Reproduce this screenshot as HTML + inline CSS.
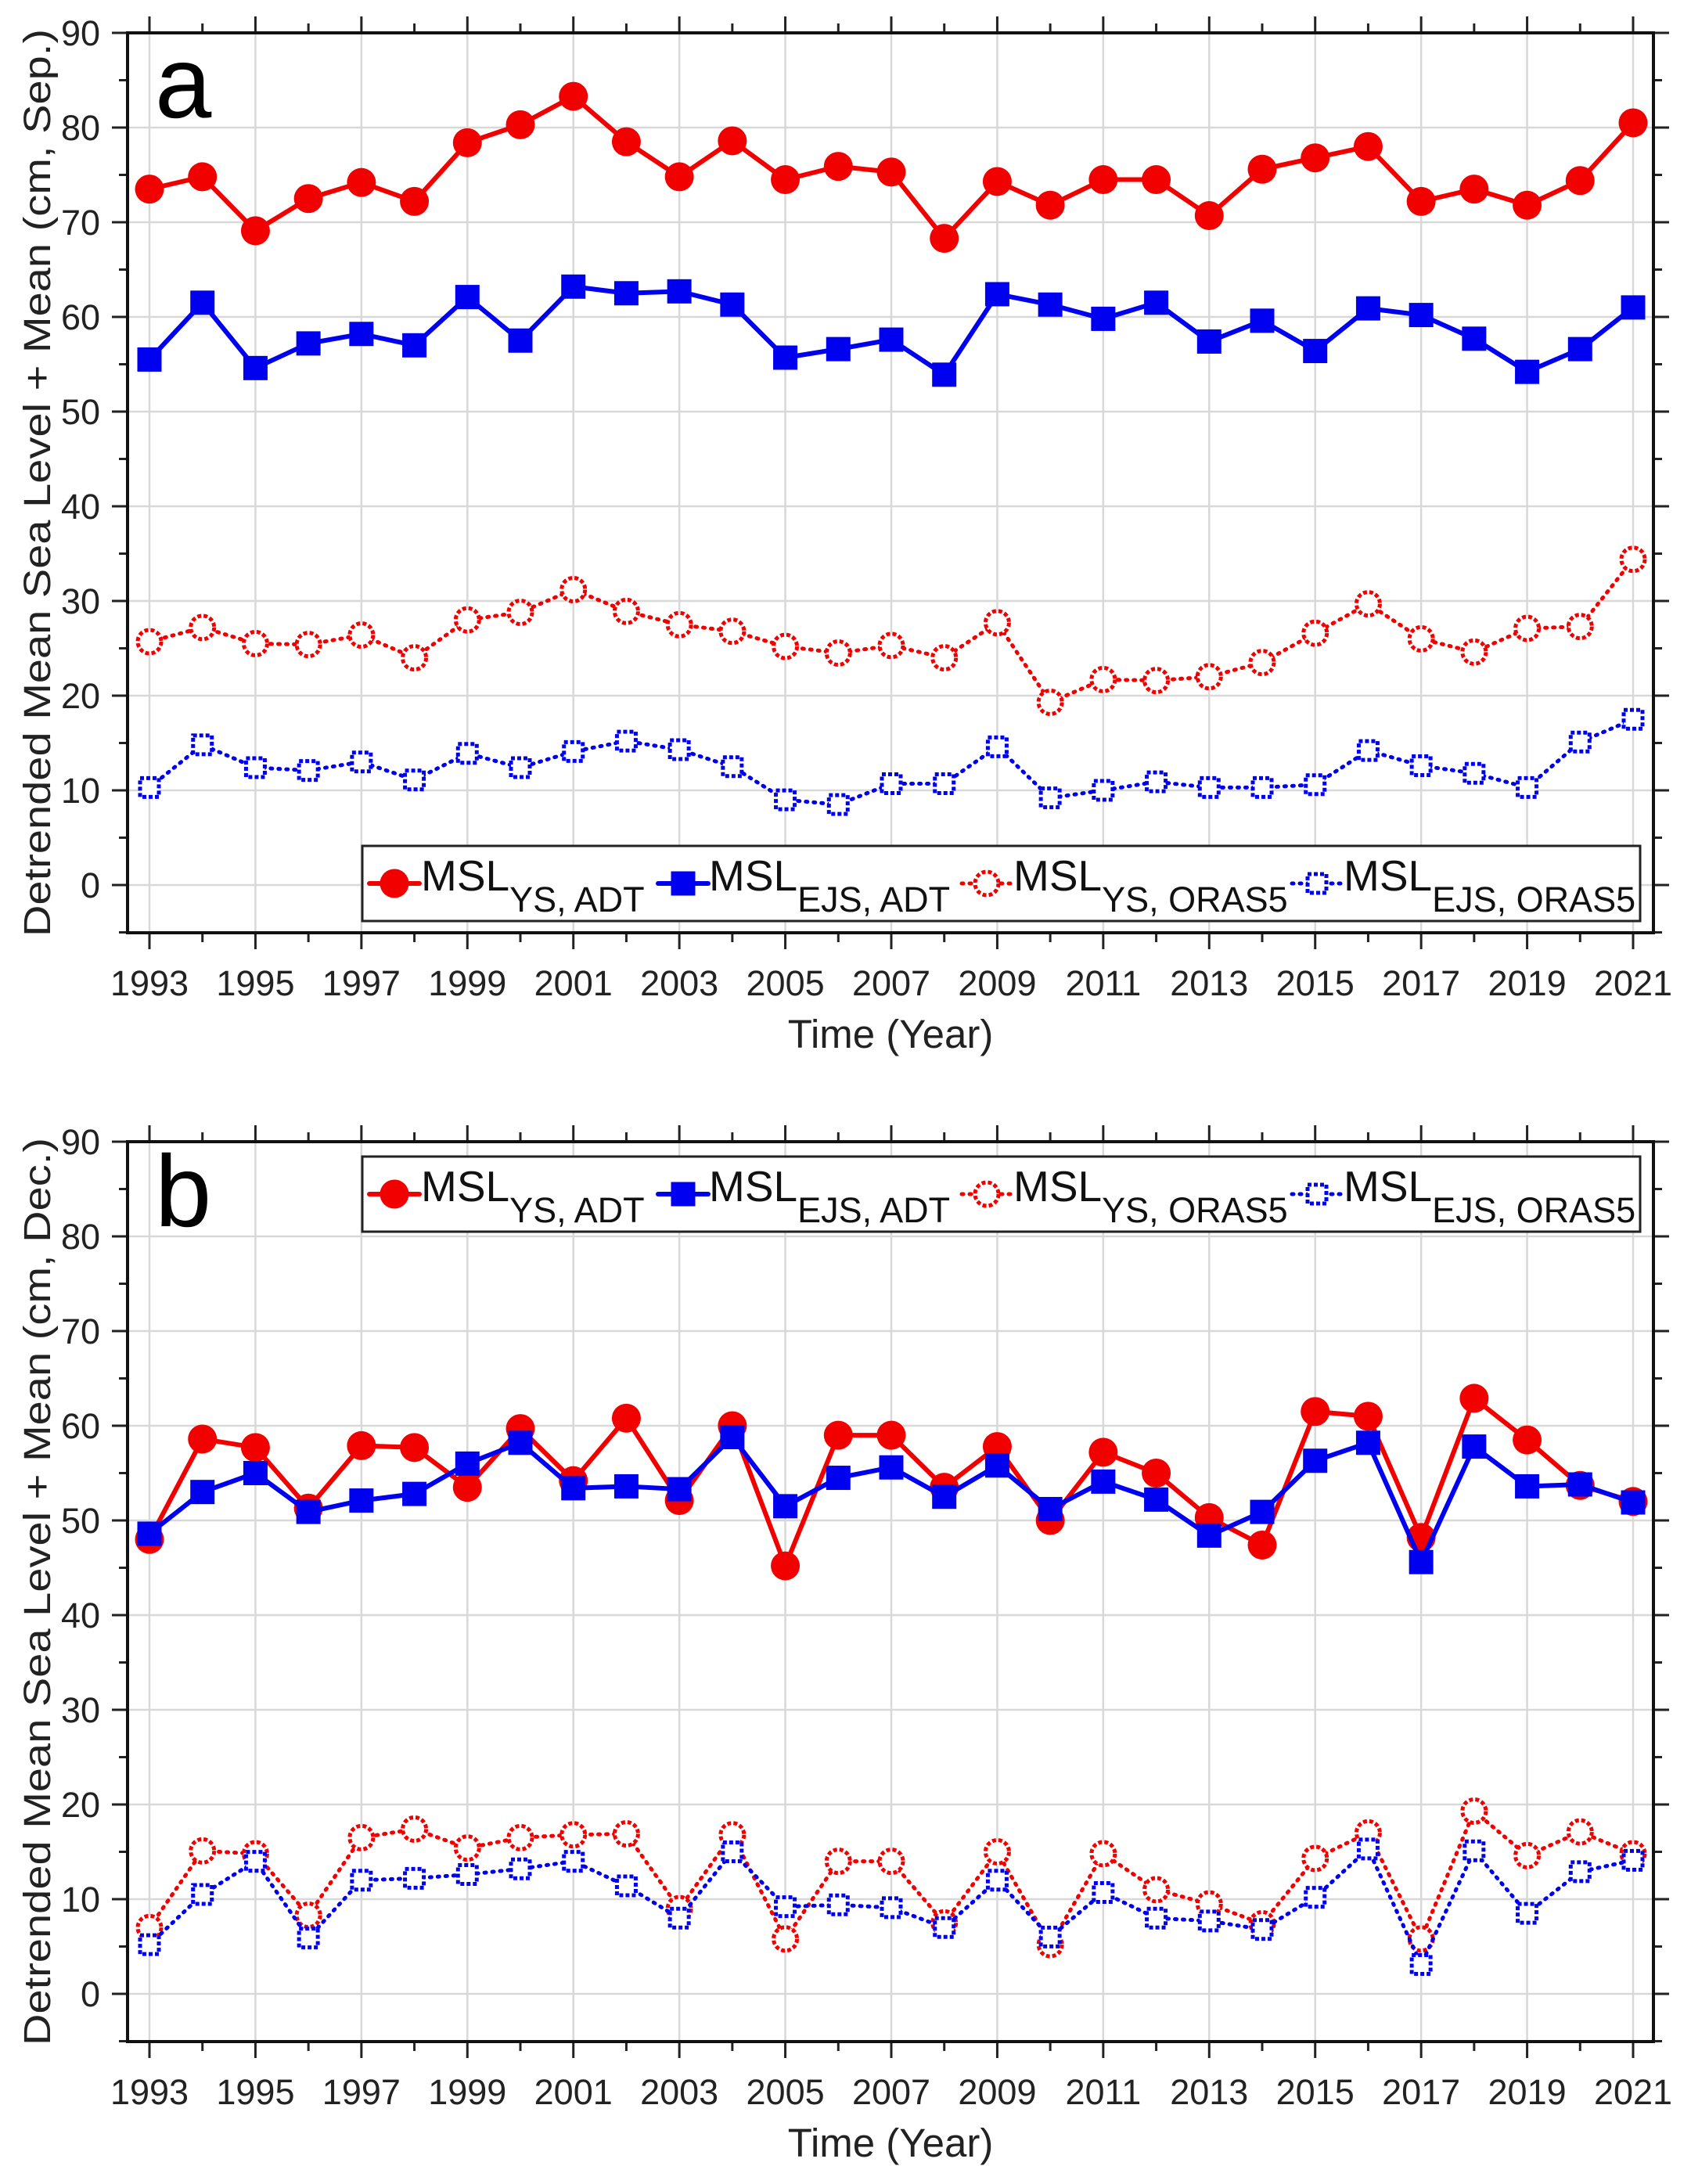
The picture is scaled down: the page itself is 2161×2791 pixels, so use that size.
<!DOCTYPE html>
<html><head><meta charset="utf-8"><style>
html,body{margin:0;padding:0;background:#fff}
svg{display:block;font-family:"Liberation Sans",Arial,sans-serif}
</style></head><body>
<svg id="fig" width="2161" height="2791" viewBox="0 0 2161 2791" xmlns="http://www.w3.org/2000/svg"></svg>
<script>
const years = [1993,1994,1995,1996,1997,1998,1999,2000,2001,2002,2003,2004,2005,2006,2007,2008,2009,2010,2011,2012,2013,2014,2015,2016,2017,2018,2019,2020,2021];
const yTicks = [0,10,20,30,40,50,60,70,80,90];
const xTickLabels = [1993,1995,1997,1999,2001,2003,2005,2007,2009,2011,2013,2015,2017,2019,2021];
const aYsAdt = [73.5,74.8,69.1,72.5,74.2,72.2,78.4,80.3,83.3,78.5,74.8,78.6,74.5,75.9,75.3,68.3,74.3,71.8,74.5,74.5,70.7,75.6,76.8,78.0,72.2,73.5,71.8,74.4,80.5];
const aEjsAdt = [55.5,61.5,54.6,57.2,58.2,57.0,62.1,57.5,63.2,62.5,62.7,61.3,55.7,56.6,57.6,53.9,62.4,61.3,59.8,61.5,57.4,59.6,56.4,60.9,60.2,57.7,54.2,56.6,61.0];
const aYsOras = [25.7,27.2,25.5,25.4,26.4,24.0,28.0,28.8,31.2,28.9,27.5,26.8,25.2,24.5,25.3,24.0,27.7,19.3,21.7,21.6,22.0,23.5,26.6,29.7,26.0,24.6,27.1,27.3,34.4];
const aEjsOras = [10.3,14.8,12.4,12.1,13.0,11.1,13.9,12.4,14.1,15.2,14.3,12.5,9.0,8.5,10.7,10.7,14.6,9.2,10.0,10.9,10.3,10.3,10.6,14.2,12.6,11.8,10.3,15.1,17.5];
const bYsAdt = [48.0,58.6,57.7,51.3,57.9,57.7,53.5,59.7,54.2,60.8,52.1,60.0,45.2,59.0,59.0,53.5,57.8,50.0,57.2,55.0,50.3,47.4,61.5,61.0,48.2,62.9,58.5,53.7,52.0];
const bEjsAdt = [48.6,53.0,55.0,50.9,52.1,52.8,56.0,58.2,53.4,53.6,53.3,58.8,51.5,54.5,55.6,52.5,55.8,51.2,54.1,52.2,48.4,50.9,56.3,58.2,45.6,57.8,53.6,53.8,51.9];
const bYsOras = [7.0,15.1,14.8,8.3,16.5,17.4,15.4,16.5,16.8,16.9,9.0,16.8,5.8,14.0,14.0,7.5,15.0,5.2,14.8,11.0,9.5,7.4,14.3,17.0,5.8,19.3,14.6,17.1,14.8];
const bEjsOras = [5.2,10.5,14.0,5.9,12.0,12.2,12.6,13.2,14.0,11.4,8.0,15.0,9.2,9.4,9.1,7.0,12.0,6.0,10.7,8.0,7.7,6.8,10.2,15.3,3.1,15.1,8.5,12.9,14.1];

const NS="http://www.w3.org/2000/svg";
const svg=document.getElementById('fig');
function mk(tag,attrs,parent){const e=document.createElementNS(NS,tag);for(const k in attrs)e.setAttribute(k,attrs[k]);(parent||svg).appendChild(e);return e;}
const RED="#f20000", BLUE="#0000f0";
const L=163,R=2113;
function xs(yr){return 191+(yr-1993)*(2087-191)/28;}

function panel(p){
  const top=p.top, bot=p.top+1150;
  const ys=v=>top+(90-v)*12.1;
  const g=mk('g',{});
  
  
  xTickLabels.forEach(yr=>{const l=mk('line',{x1:xs(yr),x2:xs(yr),y1:top,y2:bot,stroke:'#d8d8d8','stroke-width':2.5},g);});
  yTicks.forEach(v=>{const l=mk('line',{x1:L,x2:R,y1:ys(v),y2:ys(v),stroke:'#d8d8d8','stroke-width':2.5},g);});
  years.forEach((yr,i)=>{const len=(i%2==0)?21:12;
    mk('line',{x1:xs(yr),x2:xs(yr),y1:bot,y2:bot+len,stroke:'#222','stroke-width':3},g);
    mk('line',{x1:xs(yr),x2:xs(yr),y1:top,y2:top-len,stroke:'#222','stroke-width':3},g);});
  for(let v=-5;v<=90;v+=5){const len=(v%10==0)?20:11;
    mk('line',{x1:L,x2:L-len,y1:ys(v),y2:ys(v),stroke:'#222','stroke-width':3},g);
    mk('line',{x1:R,x2:R+len,y1:ys(v),y2:ys(v),stroke:'#222','stroke-width':3},g);}
  const ax=mk('rect',{x:L,y:top,width:R-L,height:bot-top,fill:'none',stroke:'#111','stroke-width':4},g);
  
  yTicks.forEach(v=>{const t=mk('text',{x:128,y:ys(v)+16,'text-anchor':'end','font-size':45,fill:'#222'},g);t.textContent=v;});
  xTickLabels.forEach(yr=>{const t=mk('text',{x:xs(yr),y:bot+80,'text-anchor':'middle','font-size':45,fill:'#222'},g);t.textContent=yr;});
  const xt=mk('text',{x:1138,y:bot+147,'text-anchor':'middle','font-size':51,fill:'#222'},g);xt.textContent='Time (Year)';
  
  const cy=(top+bot)/2;
  const yt=mk('text',{x:0,y:0,'text-anchor':'middle','font-size':48,fill:'#222',transform:`translate(64,${cy}) rotate(-90)`,textLength:1160,lengthAdjust:'spacingAndGlyphs'},g);
  yt.textContent=p.ytitle;
  const pl=mk('text',{x:198,y:top+108,'font-size':130,fill:'#000'},g);pl.textContent=p.letter;
  
  const series=[
    {d:p.s[0],c:RED,m:'circle',fill:true,name:'ys-adt'},
    {d:p.s[1],c:BLUE,m:'square',fill:true,name:'ejs-adt'},
    {d:p.s[2],c:RED,m:'circle',fill:false,name:'ys-oras5'},
    {d:p.s[3],c:BLUE,m:'square',fill:false,name:'ejs-oras5'}];
  series.forEach(s=>{
    const sg=mk('g',{},g);
    const pts=s.d.map((v,i)=>xs(years[i])+','+ys(v)).join(' ');
    const ln=mk('polyline',{points:pts,fill:'none',stroke:s.c,'stroke-width':s.fill?6:5,'stroke-linejoin':'round','stroke-dasharray':s.fill?'none':'2 8','stroke-linecap':'round'},sg);
    
    s.d.forEach((v,i)=>{drawMarker(sg,s,xs(years[i]),ys(v));});
  });
  const lg=mk('g',{},g);
  mk('rect',{x:463,y:p.ly,width:1633,height:96,fill:'#fff',stroke:'#222','stroke-width':3},lg);
  const ent=[{x:504,tx:538,sub:'YS, ADT'},{x:873,tx:906,sub:'EJS, ADT'},{x:1261,tx:1295,sub:'YS, ORAS5'},{x:1683,tx:1717,sub:'EJS, ORAS5'}];
  ent.forEach((e,k)=>{const s=series[k];
    const eg=mk('g',{},lg);
    const my=p.ly+48;
    mk('line',{x1:e.x-32,x2:e.x+32,y1:my,y2:my,stroke:s.c,'stroke-width':s.fill?6:5,'stroke-dasharray':s.fill?'none':'2 8','stroke-linecap':'round'},eg);
    drawMarker(eg,s,e.x,my);
    const t=mk('text',{x:e.tx,y:p.ly+57,'font-size':55,fill:'#111'},eg);
    t.appendChild(document.createTextNode('MSL'));
    const ts=mk('tspan',{dy:27,'font-size':45},t);ts.textContent=e.sub;
  });
}
function drawMarker(parent,s,x,y){
  let m;
  if(s.m=='circle'){
    m=s.fill?mk('circle',{cx:x,cy:y,r:18.5,fill:s.c},parent):mk('circle',{cx:x,cy:y,r:15,fill:'#fff',stroke:s.c,'stroke-width':5,'stroke-dasharray':'5 3'},parent);
  }else{
    m=s.fill?mk('rect',{x:x-15.5,y:y-15.5,width:31,height:31,fill:s.c},parent):mk('rect',{x:x-12,y:y-12,width:24,height:24,fill:'#fff',stroke:s.c,'stroke-width':5,'stroke-dasharray':'5 3'},parent);
  }
  
  
}
panel({name:'panel-a',top:42,ly:1081,letter:'a',ytitle:'Detrended Mean Sea Level + Mean (cm, Sep.)',s:[aYsAdt,aEjsAdt,aYsOras,aEjsOras]});
panel({name:'panel-b',top:1459,ly:1478,letter:'b',ytitle:'Detrended Mean Sea Level + Mean (cm, Dec.)',s:[bYsAdt,bEjsAdt,bYsOras,bEjsOras]});
</script>
</body></html>
